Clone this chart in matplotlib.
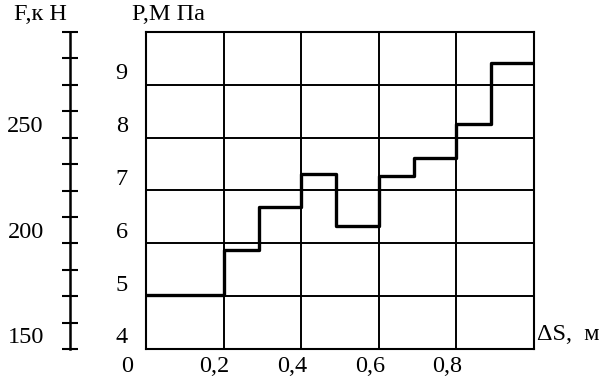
import matplotlib
matplotlib.use('Agg')
import numpy as np
from matplotlib import pyplot as plt

# step chart data: pressure P (MPa) vs displacement dS (m)
s_edges = [0, 0.2, 0.29, 0.4, 0.49, 0.6, 0.69, 0.8, 0.89, 1.0]
p_values = [5.02, 5.87, 6.68, 7.32, 6.32, 7.28, 7.62, 8.26, 9.42]

p_ticks = [4, 5, 6, 7, 8, 9]
s_ticks = [0.2, 0.4, 0.6, 0.8]
s_labels = ['0,2', '0,4', '0,6', '0,8']
f_ticks = np.arange(150, 300.1, 12.5)
f_labels = [150, 200, 250]

plt.rcParams['font.family'] = ['Liberation Serif', 'DejaVu Serif']
plt.rcParams['font.size'] = 17.5

W, H = 603, 378
fig = plt.figure(figsize=(W / 100, H / 100), dpi=100)

# main box in pixel coords
left, right, top, bottom = 146, 534, 32, 349
ax = fig.add_axes([left / W, 1 - bottom / H, (right - left) / W, (bottom - top) / H])
ax.set_xlim(0, 1)
ax.set_ylim(4, 10)
ax.set_xticks([0.2, 0.4, 0.6, 0.8])
ax.set_yticks([5, 6, 7, 8, 9])
ax.grid(True, color='black', linewidth=1.4)
ax.tick_params(length=0, labelbottom=False, labelleft=False)
for sp in ax.spines.values():
    sp.set_linewidth(1.5)

ax.step(s_edges, p_values + [p_values[-1]], where='post', color='black', linewidth=2.4, zorder=3)

# tick labels sit a bit above gridlines
for p in p_ticks:
    ax.annotate(str(p), xy=(0, p), xycoords=('axes fraction', 'data'),
                xytext=(-17.5, 8), textcoords='offset points', ha='center', va='center')
for s, lab in zip(s_ticks, s_labels):
    ax.annotate(lab, xy=(s, 4), xytext=(-6.5, -12.5), textcoords='offset points',
                ha='center', va='center')
ax.annotate('0', xy=(0, 4), xytext=(-13.5, -12.5), textcoords='offset points',
            ha='center', va='center')

# force scale on the far left
fx = 70
axf = fig.add_axes([fx / W, 1 - bottom / H, 0.001, (bottom - top) / H])
axf.set_ylim(150, 300)
axf.set_yticks(f_ticks)
axf.tick_params(axis='y', direction='inout', length=12, width=1.5, labelleft=False)
axf.set_xticks([])
for name, sp in axf.spines.items():
    sp.set_visible(name == 'left')
axf.spines['left'].set_linewidth(1.8)
axf.patch.set_visible(False)
for f in f_labels:
    axf.annotate(str(f), xy=(0, f), xycoords=('axes fraction', 'data'),
                 xytext=(-32, 8), textcoords='offset points', ha='center', va='center')

# axis titles
fig.text(14 / W, 1 - 15 / H, 'F,к Н', ha='left', va='center')
fig.text(132 / W, 1 - 15 / H, 'P,М Па', ha='left', va='center')
fig.text(537 / W, 1 - 335 / H, 'ΔS,  м', ha='left', va='center')

fig.savefig('out.png', dpi=100, facecolor='white')
